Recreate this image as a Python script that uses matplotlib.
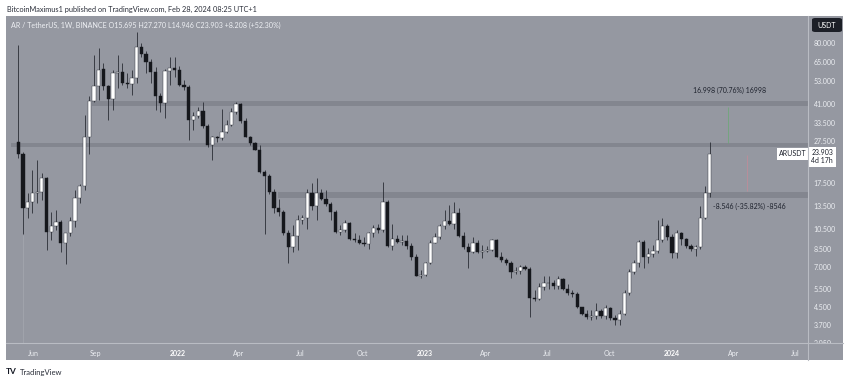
import numpy as np
import pandas as pd
import matplotlib
matplotlib.use("Agg")
import matplotlib.pyplot as plt
import matplotlib.dates as mdates
import matplotlib.transforms as mtransforms
from matplotlib.patches import Rectangle, FancyBboxPatch
from matplotlib.ticker import FixedLocator, NullLocator

plt.rcParams['font.family'] = ['Lato', 'DejaVu Sans']

# weekly AR/USDT candles (Binance), first week starts 2021-05-10
first_week = "2021-05-10"
opens = [27.3, 24.0, 13.3, 14.2, 15.6, 15.85, 18.45, 10.24, 10.9, 11.34,
         9.03, 10.06, 11.5, 14.84, 16.9, 28.8, 42.7, 50.0, 60.0, 50.0,
         43.3, 57.5, 58.5, 51.7, 51.2, 54.9, 76.8, 71.0, 65.0, 58.5,
         45.0, 41.8, 59.1, 61.1, 59.9, 50.8, 49.6, 34.6, 36.2, 38.3,
         32.4, 26.3, 28.8, 28.3, 30.2, 32.8, 37.9, 41.0, 34.3, 28.8,
         26.8, 25.0, 19.7, 18.9, 15.8, 13.3, 12.7, 10.06, 8.64, 9.8,
         11.7, 11.85, 15.6, 13.5, 15.6, 14.7, 13.9, 12.7, 10.24, 10.43,
         11.3, 9.43, 9.4, 9.1, 8.95, 10.06, 10.62, 10.43, 14.2, 8.74,
         9.43, 9.2, 9.3, 8.74, 7.75, 6.35, 6.42, 7.3, 9.1, 9.7,
         10.9, 11.5, 11.15, 12.5, 9.8, 8.64, 8.24, 9.05, 8.24, 8.3,
         8.39, 9.4, 7.8, 7.53, 7.3, 6.6, 6.65, 6.99, 6.85, 5.0,
         4.9, 5.6, 5.88, 5.86, 5.66, 6.1, 5.5, 5.24, 5.2, 4.5,
         4.2, 4.05, 4.08, 4.33, 4.08, 4.45, 4.02, 3.91, 4.2, 5.28,
         6.63, 7.3, 9.2, 7.75, 8.05, 8.33, 9.36, 10.9, 9.7, 8.1,
         10.15, 9.43, 8.8, 8.45, 8.64, 11.95, 15.695]
highs = [78.2, 24.4, 15.6, 20.1, 22.4, 19.4, 18.6, 12.7, 12.97, 11.6,
         10.1, 12.05, 16.13, 17.25, 36.5, 44.9, 70.2, 75.5, 64.4, 50.8,
         59.6, 70.2, 64.3, 57.5, 59.6, 90.3, 80.0, 73.0, 67.6, 61.6,
         46.2, 60.6, 68.9, 68.9, 62.3, 53.5, 50.5, 37.9, 40.0, 42.3,
         33.0, 29.0, 29.2, 38.9, 34.6, 39.3, 42.3, 41.6, 35.2, 29.2,
         27.3, 26.3, 20.0, 19.3, 16.4, 14.7, 13.0, 10.43, 11.0, 12.3,
         12.3, 16.4, 17.4, 18.3, 16.3, 16.1, 14.2, 12.97, 11.0, 11.6,
         11.4, 10.06, 9.9, 9.7, 10.24, 11.0, 11.2, 17.6, 14.5, 11.2,
         9.9, 9.9, 9.9, 9.03, 8.0, 6.75, 7.4, 9.36, 10.15, 11.2,
         12.97, 13.7, 14.2, 13.2, 10.24, 9.03, 9.7, 9.4, 8.86, 8.74,
         9.5, 9.5, 8.2, 7.7, 7.45, 7.0, 7.1, 7.1, 7.0, 5.43,
         5.85, 6.3, 6.3, 6.05, 6.3, 6.2, 5.8, 5.43, 5.3, 4.52,
         4.36, 4.36, 4.73, 4.44, 4.6, 4.52, 4.13, 4.36, 5.43, 6.85,
         7.53, 9.36, 9.36, 8.57, 8.86, 11.6, 11.9, 11.2, 10.0, 10.43,
         10.24, 9.6, 9.0, 8.86, 13.5, 16.8, 27.27]
lows = [22.8, 9.98, 11.9, 12.6, 14.0, 14.47, 8.39, 9.36, 10.43, 8.24,
        7.21, 9.8, 10.8, 14.0, 16.13, 24.0, 42.3, 43.0, 47.9, 34.6,
        38.6, 48.8, 50.8, 48.8, 45.4, 51.9, 68.9, 57.5, 51.7, 38.6,
        37.9, 35.4, 50.8, 55.5, 49.9, 47.9, 27.8, 31.0, 35.2, 31.8,
        25.8, 22.5, 27.3, 27.8, 30.0, 32.4, 37.0, 33.4, 28.6, 26.3,
        24.9, 19.4, 10.0, 15.5, 12.6, 12.1, 9.9, 7.3, 8.24, 8.39,
        11.2, 10.6, 13.0, 11.6, 14.5, 13.5, 11.6, 10.06, 9.9, 10.24,
        9.36, 9.2, 8.97, 8.74, 8.45, 9.7, 10.06, 10.24, 8.64, 8.39,
        9.03, 8.86, 8.53, 7.53, 6.3, 6.16, 6.3, 7.2, 9.03, 9.5,
        10.6, 11.0, 10.6, 9.7, 8.53, 6.9, 8.1, 8.1, 7.67, 8.24,
        8.33, 7.75, 7.4, 7.1, 6.2, 6.5, 6.5, 6.75, 4.06, 4.8,
        4.87, 5.43, 5.5, 5.5, 5.47, 5.46, 5.15, 5.06, 4.45, 4.13,
        3.98, 3.91, 3.98, 4.02, 3.98, 3.91, 3.72, 3.72, 4.13, 5.15,
        6.5, 7.0, 6.9, 7.3, 7.8, 8.1, 9.2, 9.36, 7.7, 7.7,
        8.86, 8.57, 8.3, 7.85, 8.47, 11.8, 14.946]
closes = [24.0, 13.3, 14.2, 15.66, 15.85, 18.45, 10.24, 10.9, 11.34, 9.03,
          10.06, 11.5, 14.84, 16.9, 28.8, 42.7, 50.0, 59.6, 50.0, 43.3,
          57.5, 58.5, 51.7, 51.2, 54.9, 76.8, 71.0, 65.0, 58.5, 45.0,
          41.8, 59.1, 61.1, 59.9, 50.8, 49.6, 34.6, 36.2, 38.3, 32.4,
          26.3, 28.8, 28.3, 30.2, 32.8, 37.9, 41.0, 34.3, 28.8, 26.8,
          25.0, 19.7, 18.9, 15.8, 13.3, 12.7, 10.06, 8.64, 9.8, 11.7,
          11.85, 15.6, 13.5, 15.6, 14.7, 13.9, 12.7, 10.24, 10.43, 11.3,
          9.43, 9.4, 9.1, 8.95, 10.06, 10.62, 10.43, 14.2, 8.74, 9.43,
          9.2, 9.3, 8.74, 7.75, 6.35, 6.42, 7.3, 9.1, 9.7, 10.9,
          11.5, 11.15, 12.5, 9.8, 8.64, 8.24, 9.05, 8.24, 8.3, 8.39,
          9.4, 7.8, 7.53, 7.3, 6.6, 6.65, 6.99, 6.85, 5.0, 4.9,
          5.6, 5.88, 5.86, 5.66, 6.1, 5.5, 5.24, 5.2, 4.5, 4.2,
          4.05, 4.08, 4.33, 4.08, 4.45, 4.02, 3.91, 4.2, 5.28, 6.63,
          7.3, 9.2, 7.75, 8.05, 8.33, 9.36, 10.9, 9.7, 8.1, 10.15,
          9.43, 8.8, 8.45, 8.64, 11.95, 15.695, 23.903]

price_ticks = [80, 65, 53, 41, 33.5, 27.5, 17.5, 13.5, 10.5, 8.5, 7, 5.5, 4.5, 3.7, 3.05]
time_ticks = ["2021-06-01", "2021-09-01", "2022-01-01", "2022-04-01", "2022-07-01",
              "2022-10-01", "2023-01-01", "2023-04-01", "2023-07-01", "2023-10-01",
              "2024-01-01", "2024-04-01", "2024-07-01"]
time_labels = ["Jun", "Sep", "2022", "Apr", "Jul", "Oct", "2023", "Apr", "Jul", "Oct",
               "2024", "Apr", "Jul"]

# horizontal zones: (low, high, start date)
zone_low = [40.5, 25.8, 14.8]
zone_high = [42.7, 27.0, 15.8]
zone_start = ["2021-08-27", "2021-04-30", "2022-05-29"]

header = "BitcoinMaximus1 published on TradingView.com, Feb 28, 2024 08:25 UTC+1"
legend = "AR / TetherUS, 1W, BINANCE O15.695 H27.270 L14.946 C23.903 +8.208 (+52.30%)"

BG = "#9598a1"
W, H = 850, 381

fig = plt.figure(figsize=(W / 100, H / 100), dpi=100)
fig.patch.set_facecolor("white")

def fx(px):
    return px / W

def fy(py):
    return 1 - py / H

# chart panel background
fig.patches.append(Rectangle((fx(6), fy(360)), fx(843) - fx(6), fy(16) - fy(360),
                             transform=fig.transFigure, facecolor=BG, edgecolor="none", zorder=-5))

ax = fig.add_axes([fx(6), fy(343), fx(808) - fx(6), fy(16) - fy(343)])
ax.set_zorder(2)
ax.set_facecolor(BG)
for s in ax.spines.values():
    s.set_visible(False)

dates = pd.date_range(first_week, periods=len(closes), freq="7D")
x = mdates.date2num(dates)
o = np.array(opens)
c = np.array(closes)
hi = np.array(highs)
lo = np.array(lows)
up = c >= o

ax.vlines(x, lo, hi, color="#2a2d35", linewidth=0.6, zorder=3)
body_lo = np.minimum(o, c)
body_h = np.abs(c - o)
ax.bar(x[up], body_h[up], bottom=body_lo[up], width=4.8, color="white",
       edgecolor="#2a2d35", linewidth=0.3, zorder=4)
ax.bar(x[~up], body_h[~up], bottom=body_lo[~up], width=4.8, color="#15171c",
       edgecolor="#15171c", linewidth=0.3, zorder=4)

ax.set_yscale("log")
xmin = mdates.date2num(pd.Timestamp("2021-04-22"))
xmax = mdates.date2num(pd.Timestamp("2024-07-20"))
ax.set_xlim(xmin, xmax)
ax.set_ylim(3.05, 107.4)

for zl, zh, zs in zip(zone_low, zone_high, zone_start):
    x0 = mdates.date2num(pd.Timestamp(zs))
    ax.add_patch(Rectangle((x0, zl), xmax - x0, zh - zl, facecolor="#6f727b",
                           alpha=0.45, edgecolor="none", zorder=2))

# faint vertical line under the first candles
ax.vlines(x[1], 3.05, 9.9, color="#a3a6ae", linewidth=0.6, zorder=1)

# measuring tool lines
ax.vlines(mdates.date2num(pd.Timestamp("2024-03-24")), 27.0, 40.0, color="#5fae6a",
          linewidth=0.6, alpha=0.7, zorder=2)
ax.vlines(mdates.date2num(pd.Timestamp("2024-04-21")), 15.9, 23.7, color="#c98a98",
          linewidth=0.6, alpha=0.8, zorder=2)
ax.text(mdates.date2num(pd.Timestamp("2024-02-01")), 47.9, "16.998 (70.76%) 16998",
        fontsize=5, color="#1e222d", va="center", ha="left", zorder=5)
ax.text(mdates.date2num(pd.Timestamp("2024-03-02")), 13.5, "-8.546 (-35.82%) -8546",
        fontsize=5, color="#1e222d", va="center", ha="left", zorder=5)

# axes ticks
ax.yaxis.tick_right()
ax.yaxis.set_major_locator(FixedLocator(price_ticks))
ax.yaxis.set_minor_locator(NullLocator())
ax.set_yticklabels([f"{v:.3f}" for v in price_ticks])
ax.tick_params(axis="y", length=0, pad=4, labelsize=5, labelcolor="#eceef2")
tick_x = [mdates.date2num(pd.Timestamp(t)) for t in time_ticks]
ax.xaxis.set_major_locator(FixedLocator(tick_x))
ax.xaxis.set_minor_locator(NullLocator())
ax.set_xticklabels(time_labels)
ax.tick_params(axis="x", length=0, pad=5, labelsize=5, labelcolor="#eceef2")
for lbl in ax.get_xticklabels():
    if lbl.get_text().isdigit():
        lbl.set_fontweight("bold")
        lbl.set_color("white")

# the lowest price label is cut by the time axis in the original
panel_box = mtransforms.TransformedBbox(
    mtransforms.Bbox([[fx(6), fy(343)], [fx(843), fy(16)]]), fig.transFigure)
low_lbl = ax.get_yticklabels()[-1]
low_lbl.set_clip_box(panel_box)
low_lbl.set_clip_on(True)

# panel separators
fig.add_artist(plt.Line2D([fx(808), fx(808)], [fy(16), fy(360)], transform=fig.transFigure,
                          color="#b9bcc3", linewidth=0.8, zorder=3))
fig.add_artist(plt.Line2D([fx(6), fx(843)], [fy(343), fy(343)], transform=fig.transFigure,
                          color="#b9bcc3", linewidth=0.8, zorder=3))

# USDT badge
fig.patches.append(FancyBboxPatch((fx(812), fy(32)), fx(842) - fx(812), fy(18) - fy(32),
                                  boxstyle="round,pad=0,rounding_size=0.004",
                                  transform=fig.transFigure, facecolor="#1c1f27",
                                  edgecolor="none", zorder=5))
fig.text(fx(827), fy(25), "USDT", fontsize=5, color="white", ha="center", va="center", zorder=6)

# last price labels
blend = mtransforms.blended_transform_factory(ax.transAxes, ax.transData)
ax.text(0.9985, 23.903, "ARUSDT", transform=blend, fontsize=5, color="#1e222d",
        ha="right", va="center", zorder=6, clip_on=False,
        bbox=dict(boxstyle="square,pad=0.3", facecolor="white", edgecolor="none"))
ax.annotate("23.903\n4d 17h", xy=(1.0, 23.903), xycoords=blend, xytext=(2.5, 3.6),
            textcoords="offset points", fontsize=5, color="#1e222d", ha="left", va="top",
            linespacing=1.2, annotation_clip=False, zorder=6,
            bbox=dict(boxstyle="square,pad=0.35", facecolor="white", edgecolor="none"))

# header / legend / footer texts
fig.text(fx(7), fy(9), header, fontsize=5.3, color="#2a2e39", ha="left", va="center")
fig.text(fx(11), fy(25), legend, fontsize=5.1, color="#eef0f4", ha="left", va="center", zorder=6)
fig.text(fx(6), fy(372), "TV", fontsize=6, fontweight="bold", color="#131722",
         ha="left", va="center")
fig.text(fx(20), fy(372), "TradingView", fontsize=5.5, color="#2a2e39", ha="left", va="center")

fig.savefig("out.png", dpi=100)
